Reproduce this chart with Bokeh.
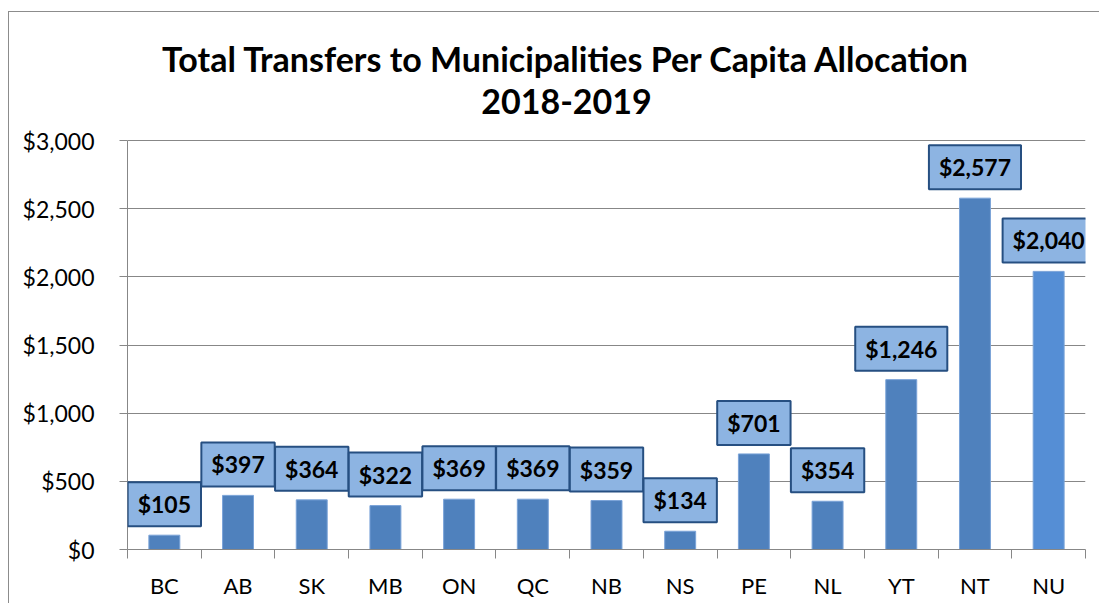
from bokeh.plotting import figure
from bokeh.models import Label, FixedTicker, NumeralTickFormatter, Range1d
from bokeh.embed import file_html
from bokeh.resources import INLINE

categories = ["BC", "AB", "SK", "MB", "ON", "QC", "NB", "NS", "PE", "NL", "YT", "NT", "NU"]
values = [105, 397, 364, 322, 369, 369, 359, 134, 701, 354, 1246, 2577, 2040]
bar_colors = ["#4F81BD"] * 12 + ["#558ED5"]
title_lines = ["Total Transfers to Municipalities Per Capita Allocation", "2018-2019"]
y_ticks = [0, 500, 1000, 1500, 2000, 2500, 3000]

FONT = "Lato"
GRID = "#878787"

W, H = 1091, 592
BOTTOM = 55
AXIS_PX = 409  # pixel height of the 0..3000 span
frame_h = H - BOTTOM
y_top = y_ticks[-1] * frame_h / AXIS_PX

p = figure(width=W, height=H, output_backend="svg", toolbar_location=None,
           x_range=Range1d(0, len(categories)), y_range=Range1d(0, y_top),
           min_border_left=118, min_border_right=15, min_border_top=0, min_border_bottom=BOTTOM)
p.styles = {"margin-left": "8px", "margin-top": "11px",
            "border-left": "1px solid #8c8c8c", "border-top": "1px solid #8c8c8c"}
p.outline_line_color = None
p.background_fill_color = "white"
p.border_fill_color = "white"

xs = [i + 0.5 for i in range(len(categories))]
p.vbar(x=xs, top=values, width=0.42, bottom=0, fill_color=bar_colors,
       line_color="#7AA3D8", line_width=1)

# x axis
xa = p.xaxis[0]
xa.ticker = FixedTicker(ticks=xs, minor_ticks=list(range(len(categories) + 1)))
xa.major_label_overrides = {x: c for x, c in zip(xs, categories)}
xa.major_tick_out = 0
xa.major_tick_in = 0
xa.minor_tick_out = 9
xa.minor_tick_in = 0
xa.minor_tick_line_color = GRID
xa.axis_line_color = GRID
xa.major_label_text_font = FONT
xa.major_label_text_font_size = "22px"
xa.major_label_text_color = "black"
xa.major_label_standoff = 13

# y axis
ya = p.yaxis[0]
ya.ticker = FixedTicker(ticks=y_ticks)
ya.formatter = NumeralTickFormatter(format="$0,0")
ya.bounds = (y_ticks[0], y_ticks[-1])
ya.major_tick_out = 8
ya.major_tick_in = 0
ya.minor_tick_out = 0
ya.minor_tick_in = 0
ya.major_tick_line_color = GRID
ya.axis_line_color = GRID
ya.major_label_text_font = FONT
ya.major_label_text_font_size = "23px"
ya.major_label_text_color = "black"
ya.major_label_standoff = 25

p.xgrid.grid_line_color = None
p.ygrid.grid_line_color = GRID
p.ygrid.ticker = FixedTicker(ticks=y_ticks)

# value labels
for x, v in zip(xs, values):
    p.add_layout(Label(x=x, y=v, text=f"${v:,}", text_align="center", text_baseline="bottom",
                       y_offset=9, text_font=FONT, text_font_style="bold", text_font_size="23px",
                       text_color="black", background_fill_color="#8DB4E2",
                       border_line_color="#264F81", border_line_width=2,
                       padding={"left": 10, "right": 10, "top": 8, "bottom": 8}))

# title
for line, yv in zip(title_lines, [3601, 3286]):
    p.add_layout(Label(x=439, x_units="screen", y=yv, text=line, text_align="center",
                       text_baseline="middle", text_font=FONT, text_font_style="bold",
                       text_font_size="34px", text_color="black"))

open("out.html", "w").write(file_html(p, INLINE))
